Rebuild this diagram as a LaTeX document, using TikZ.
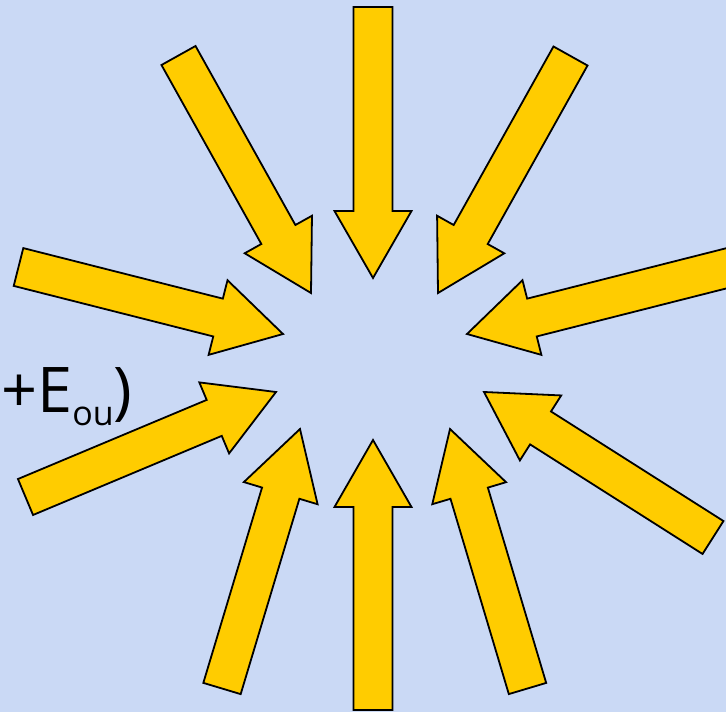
\documentclass[tikz,border=0pt]{standalone}
\usepackage{fontspec}
\setmainfont{Open Sans}
\usetikzlibrary{calc}
\definecolor{Sky}{HTML}{CAD9F5}
\definecolor{Gold}{HTML}{FFCC00}
\tikzset{
  raybox/.style={draw=black,fill=Gold,line width=1.8pt,line join=miter},
  labeltext/.style={inner sep=0pt,anchor=base west,font=\fontsize{63}{63}\selectfont}
}
% arrow from tail #1 to tip #2
\newcommand{\inray}[2]{%
  \coordinate (#2-h) at ($(#2)!67pt!(#1)$);
  \draw[raybox] ($(#1)!19.5pt!-90:(#2)$) -- ($(#2-h)!19.5pt!90:(#1)$)
    -- ($(#2-h)!38.5pt!90:(#1)$) -- (#2) -- ($(#2-h)!38.5pt!-90:(#1)$)
    -- ($(#2-h)!19.5pt!-90:(#1)$) -- ($(#1)!19.5pt!90:(#2)$) -- cycle;}

\begin{document}
\begin{tikzpicture}[x=1pt,y=-1pt]
  \useasboundingbox (0,0) rectangle (726,712);
  \fill[Sky] (0,0) rectangle (726,712);

  \foreach \nm/\tx/\ty/\px/\py in {n/373/7/373/278, nw/178.5/55.5/311/293,
      ne/570.5/56/438/293, wu/18.5/267/283/334, eu/731.5/267/467/334,
      wl/25.5/497/276/392, el/713/537.5/484/392, sw/222/688.5/300/429,
      se/527.5/688.5/450/429, s/373/710/373/440}{
    \coordinate (\nm-tail) at (\tx,\ty);
    \coordinate (\nm-tip) at (\px,\py);
    \inray{\nm-tail}{\nm-tip}
  }

  \node[labeltext] (sum) at (1,412) {+E\raisebox{-13pt}{\fontsize{34}{34}\selectfont ou})};
\end{tikzpicture}
\end{document}
